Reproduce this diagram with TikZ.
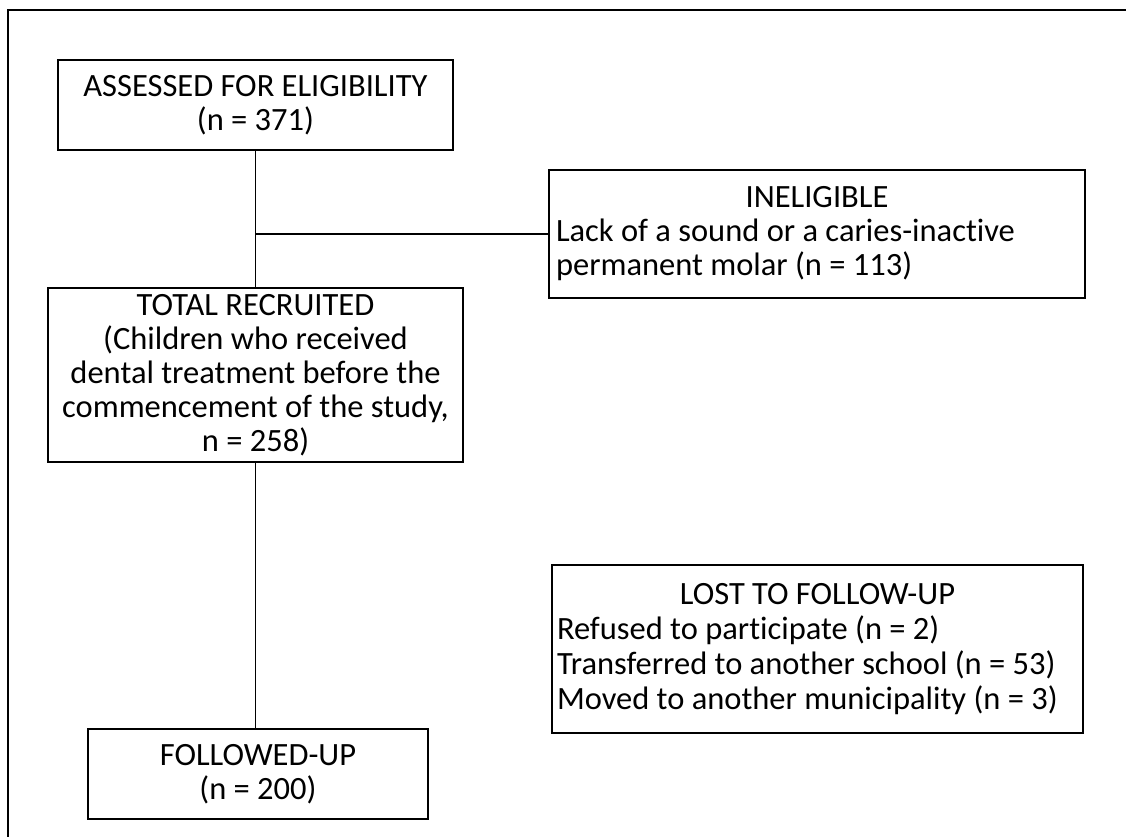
\documentclass[tikz,border=0pt]{standalone}
\usepackage{fontspec}
\setmainfont{Carlito}[Ligatures={NoCommon}]
\begin{document}
\begin{tikzpicture}[x=1pt,y=-1pt,
  box/.style={draw=black, line width=1.6pt, rectangle, inner ysep=0pt, inner xsep=0pt, align=center,
    font=\fontsize{32.5}{34}\selectfont},
  lbox/.style={box, align=flush left, inner xsep=7pt},
  conn/.style={draw=black, line width=1.6pt}]
\useasboundingbox (0,0) rectangle (1126,837);
\clip (0,0) rectangle (1126,837);
\draw[line width=1.6pt] (8,10) rectangle (1150,860);
\node[box, minimum width=395pt, minimum height=90pt] (assess) at (255.5,105)
  {ASSESSED FOR ELIGIBILITY\\(n = 371)};
\node[lbox, text width=522pt, minimum height=128pt] (inel) at (817,234)
  {\makebox[522pt]{INELIGIBLE}\\Lack of a sound or a caries-inactive\\permanent molar (n = 113)};
\node[lbox, inner xsep=5pt, text width=521pt, minimum height=168pt,
  font=\fontsize{32.5}{35}\selectfont] (lost) at (817.5,649)
  {\makebox[521pt]{LOST TO FOLLOW-UP}\\Refused to participate (n = 2)\\Transferred to another school (n = 53)\\Moved to another municipality (n = 3)};
\node[box, minimum width=415pt, minimum height=174pt] (total) at (255.5,375)
  {TOTAL RECRUITED\\(Children who received\\dental treatment before the\\commencement of the study,\\n = 258)};
\node[box, minimum width=340pt, minimum height=90pt] (follow) at (258,774)
  {FOLLOWED-UP\\(n = 200)};
\coordinate (j) at (assess.south |- inel.west);
\draw[conn] (assess.south) -- (total.north);
\draw[conn] (j) -- (inel.west);
\draw[conn] (total.south) -- (total.south |- follow.north);
\end{tikzpicture}
\end{document}
